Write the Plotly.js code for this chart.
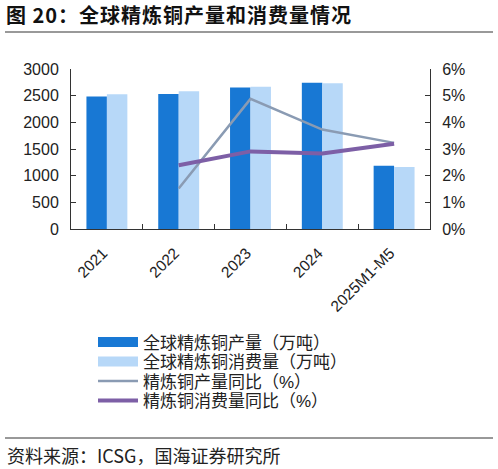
<!DOCTYPE html>
<html>
<head>
<meta charset="utf-8">
<script src="https://cdn.plot.ly/plotly-3.0.1.min.js"></script>
<style>html,body{margin:0;padding:0;background:#fff;}#chart{width:498px;height:469px;}
.gtitle{letter-spacing:1px;}
</style>
</head>
<body>
<div id="chart"></div>
<script>
const categories = ["2021", "2022", "2023", "2024", "2025M1-M5"];
const production = [2485, 2530, 2652, 2740, 1187];
const consumption = [2528, 2584, 2665, 2733, 1161];
const productionYoY = [null, 1.52, 4.88, 3.73, 3.23];
const consumptionYoY = [null, 2.39, 2.91, 2.83, 3.20];
const leftTicks = [0, 500, 1000, 1500, 2000, 2500, 3000];
const rightTicks = [0, 1, 2, 3, 4, 5, 6];
const names = ["全球精炼铜产量（万吨）", "全球精炼铜消费量（万吨）", "精炼铜产量同比（%）", "精炼铜消费量同比（%）"];

const cProd = "#1878D4", cCons = "#B7D8F8", cPY = "#8A9BB3", cCY = "#7D5FA6";
const font = "Liberation Sans, Arial, 'Noto Sans CJK SC', sans-serif";
const cjk = "'Noto Sans CJK SC', 'Liberation Sans', sans-serif";

const traces = [
  {type: "bar", x: categories, y: production, name: names[0], marker: {color: cProd}, showlegend: false, hoverinfo: "skip"},
  {type: "bar", x: categories, y: consumption, name: names[1], marker: {color: cCons}, showlegend: false, hoverinfo: "skip"},
  {type: "scatter", mode: "lines", x: categories, y: productionYoY, yaxis: "y2", name: names[2], line: {color: cPY, width: 2.5}, showlegend: false},
  {type: "scatter", mode: "lines", x: categories, y: consumptionYoY, yaxis: "y2", name: names[3], line: {color: cCY, width: 4}, showlegend: false},
  // legend entries
  {type: "scatter", mode: "lines", x: [categories[0]], y: [null], name: names[0], line: {color: cProd, width: 11}, legend: "legend"},
  {type: "scatter", mode: "lines", x: [categories[0]], y: [null], name: names[1], line: {color: cCons, width: 11}, legend: "legend2"},
  {type: "scatter", mode: "lines", x: [categories[0]], y: [null], yaxis: "y2", name: names[2], line: {color: cPY, width: 2.5}, legend: "legend3"},
  {type: "scatter", mode: "lines", x: [categories[0]], y: [null], yaxis: "y2", name: names[3], line: {color: cCY, width: 4}, legend: "legend4"}
];

const H = 160;
const W = 359;
const py = p => (229 - p) / H;
const px = p => (p - 71) / W;

function leg(rowY) {
  return {x: px(93), xanchor: "left", y: py(rowY), yanchor: "middle", orientation: "v", itemwidth: 40,
          font: {family: font, size: 17, color: "#222"}, bgcolor: "rgba(0,0,0,0)"};
}

const layout = {
  width: 498, height: 469,
  margin: {l: 71, r: 68, t: 69, b: 240, pad: 0},
  paper_bgcolor: "#fff", plot_bgcolor: "#fff",
  barmode: "group", bargap: 0.43, bargroupgap: 0,
  font: {family: font, size: 15, color: "#222"},
  title: {text: "<b>图 20：全球精炼铜产量和消费量情况</b>", font: {family: cjk, size: 20, color: "#111"},
          x: 0.012, xanchor: "left", xref: "container", y: 1 - 16/469, yanchor: "middle", yref: "container"},
  xaxis: {type: "category", tickangle: -45, tickson: "boundaries", ticks: "inside", ticklen: 5, tickcolor: "#333",
          showline: true, linecolor: "#333", linewidth: 1, showgrid: false, zeroline: false, ticklabelstandoff: 8, ticklabelshift: -4,
          tickfont: {family: font, size: 15.5, color: "#222"}, fixedrange: true},
  yaxis: {range: [0, 3000], tickvals: leftTicks, ticktext: leftTicks.map(String), ticks: "inside", ticklen: 5, tickcolor: "#333",
          showline: true, linecolor: "#333", linewidth: 1, showgrid: false, zeroline: false, ticklabelstandoff: 8,
          tickfont: {family: font, size: 16, color: "#222"}},
  yaxis2: {range: [0, 6], overlaying: "y", side: "right", tickvals: rightTicks, ticktext: rightTicks.map(v => v + "%"),
           ticks: "inside", ticklen: 5, tickcolor: "#333", showline: true, linecolor: "#333", linewidth: 1,
           showgrid: false, zeroline: false, ticklabelstandoff: 8, tickfont: {family: font, size: 16, color: "#222"}},
  legend: leg(342.5),
  legend2: leg(362),
  legend3: leg(381.5),
  legend4: leg(401),
  shapes: [
    {type: "line", xref: "paper", yref: "paper", x0: px(5), x1: px(493), y0: py(32), y1: py(32), line: {color: "#777", width: 1.5}},
    {type: "line", xref: "paper", yref: "paper", x0: px(5), x1: px(493), y0: py(438), y1: py(438), line: {color: "#333", width: 1}}
  ],
  annotations: [
    {text: "资料来源：ICSG，国海证券研究所", xref: "paper", yref: "paper", x: px(5), y: py(455), xanchor: "left", yanchor: "middle",
     showarrow: false, font: {family: cjk, size: 18, color: "#222"}}
  ],
  showlegend: true
};

Plotly.newPlot("chart", traces, layout, {displayModeBar: false, staticPlot: true});
</script>
</body>
</html>
